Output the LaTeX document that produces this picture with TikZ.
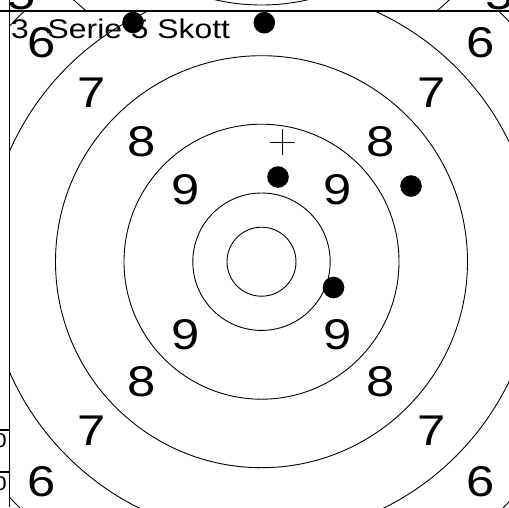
\documentclass[tikz,border=0pt]{standalone}
\usepackage{fontspec}
\setmainfont[FakeStretch=1.18]{Liberation Sans}
\usetikzlibrary{calc}
\begin{document}
\begin{tikzpicture}[x=1pt,y=-1pt,
  ring/.style={draw=black,line width=0.9pt},
  frame/.style={draw=black,line width=1.1pt},
  lbl/.style={font=\fontsize{43}{43}\selectfont,inner sep=0pt},
  hdr/.style={font=\fontsize{27}{27}\selectfont,inner sep=0pt},
  small/.style={font=\fontsize{20}{20}\selectfont,inner sep=0pt},
  hole/.style={fill=black,draw=none},
  aim/.style={draw=black,line width=0.8pt}]
\useasboundingbox (0,0) rectangle (509,507);
\coordinate (c) at (261.5,261.7);
\coordinate (u) at (261.5,-201);
% target above (fragments)
\begin{scope}
\clip (0,0) rectangle (509,11);
\draw[ring] (u) circle[radius=206];
\draw[ring] (u) circle[radius=275];
\node[lbl,anchor=base] (t5l) at (22,9) {5};
\node[lbl,anchor=base] (t5r) at (500,9) {5};
\end{scope}
% left margin boxes
\begin{scope}
\clip (0,11) rectangle (9.5,507);
\node[small,anchor=east] (z1) at (7,441) {0};
\node[small,anchor=east] (z2) at (7,484) {0};
\end{scope}
\draw[frame] (0,430) -- (9.5,430);
\draw[frame] (0,472) -- (9.5,472);
% main target
\begin{scope}
\clip (9.5,11) rectangle (509,507);
\foreach \r in {34.5,68.7,137.5,206,275,345}
  \draw[ring] (c) circle[radius=\r];
\end{scope}
% ring numbers
\foreach \n/\dx/\dy in {9/76/72.5,8/119.5/120,7/170/169,6/219.5/219.5}{
  \node[lbl] (n\n a) at ($(c)+(-\dx,-\dy)$) {\n};
  \node[lbl] (n\n b) at ($(c)+(\dx,-\dy)$) {\n};
  \node[lbl] (n\n c) at ($(c)+(-\dx,\dy)$) {\n};
  \node[lbl] (n\n d) at ($(c)+(\dx,\dy)$) {\n};
}
% header text
\node[hdr,anchor=base west] (ser) at (11,38) {3};
\node[hdr,anchor=base west] (tx) at (47.5,38) {Serie 5 Skott};
% frame lines
\draw[frame] (0,11) -- (509,11);
\draw[frame] (9.5,0) -- (9.5,507);
% aim cross
\coordinate (x) at (282.7,142.3);
\draw[aim] ($(x)+(-12.5,0)$) -- ($(x)+(12.5,0)$);
\draw[aim] ($(x)+(0,-13)$) -- ($(x)+(0,13)$);
% shot holes
\foreach \i/\px/\py in {1/133/22.5,2/264.3/22.7,3/278/177,4/411/186,5/333.5/287.5}
  \fill[hole] (\px,\py) circle[radius=10.8];
\end{tikzpicture}
\end{document}
